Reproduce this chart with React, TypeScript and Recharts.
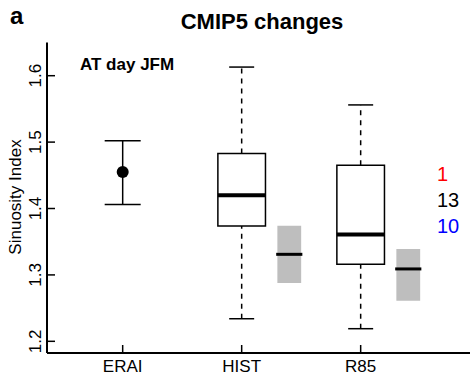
import React from 'react';
import {
  ComposedChart, XAxis, YAxis, Scatter, ErrorBar, ReferenceArea, ReferenceLine,
} from 'recharts';

const categories = ['ERAI', 'HIST', 'R85'];
const positions = [1, 2, 3];
const yTicks = [1.2, 1.3, 1.4, 1.5, 1.6];

// reanalysis: mean with range
const eraiMean = 1.455;
const eraiLow = 1.406;
const eraiHigh = 1.502;

// CMIP5 model boxes (HIST, R85)
const boxMin = [1.234, 1.219];
const boxQ1 = [1.3735, 1.316];
const boxMedian = [1.42, 1.361];
const boxQ3 = [1.483, 1.465];
const boxMax = [1.613, 1.556];

// grey bands next to each box
const bandLow = [1.288, 1.261];
const bandMedian = [1.331, 1.309];
const bandHigh = [1.374, 1.339];

const counts = ['1', '13', '10'];
const countColors = ['#ff0000', '#000000', '#0000ff'];

const FONT = '"Liberation Sans", Arial, Helvetica, sans-serif';
const W = 470;
const H = 375;
const PLOT_LEFT = 47;
const PLOT_BOTTOM = 353;

const eraiData = [{ x: positions[0], y: eraiMean, err: [eraiMean - eraiLow, eraiHigh - eraiMean] }];

const YTick = (props: any) => {
  const { y, payload } = props;
  return (
    <g>
      <line x1={PLOT_LEFT} x2={PLOT_LEFT + 8} y1={y} y2={y} stroke="#000" strokeWidth={1.5} />
      <text
        x={36} y={y} transform={`rotate(-90 36 ${y})`} textAnchor="middle" dominantBaseline="central"
        fontFamily={FONT} fontSize={17} fill="#000"
      >
        {payload.value.toFixed(1)}
      </text>
    </g>
  );
};

const XTick = (props: any) => {
  const { x, payload } = props;
  const idx = positions.indexOf(payload.value);
  return (
    <g>
      <line x1={x} x2={x} y1={PLOT_BOTTOM} y2={PLOT_BOTTOM - 8} stroke="#000" strokeWidth={1.5} />
      <text x={x} y={372} textAnchor="middle" fontFamily={FONT} fontSize={17} fill="#000">
        {categories[idx]}
      </text>
    </g>
  );
};

const Dot = (props: any) => <circle cx={props.cx} cy={props.cy} r={6} fill="#000" />;

export default function App() {
  const boxW = 0.2;
  const capW = 0.105;
  const bandOff = 0.4;
  const bandW = 0.1;

  return (
    <div style={{ position: 'absolute', left: 0, top: 0, width: W, height: H, overflow: 'hidden', background: '#fff' }}>
      <ComposedChart width={520} height={H} margin={{ top: 42.5, right: 0, bottom: 0, left: 0 }}>
        <XAxis
          dataKey="x" type="number" domain={[0.364, 4.339]} ticks={positions} allowDataOverflow
          height={H - PLOT_BOTTOM} axisLine={{ stroke: '#000', strokeWidth: 2 }} tickLine={false}
          tick={<XTick />} interval={0}
        />
        <XAxis xAxisId="top" orientation="top" height={0} tick={false} tickLine={false}
          axisLine={{ stroke: '#000', strokeWidth: 2 }} />
        <YAxis
          type="number" domain={[1.1824, 1.65]} ticks={yTicks} allowDataOverflow width={PLOT_LEFT}
          axisLine={{ stroke: '#000', strokeWidth: 2 }} tickLine={false} tick={<YTick />} interval={0}
        />

        {positions.slice(1).map((p, i) => (
          <React.Fragment key={categories[i + 1]}>
            <ReferenceLine segment={[{ x: p, y: boxQ3[i] }, { x: p, y: boxMax[i] }]} stroke="#000" strokeWidth={1.5} strokeDasharray="5 5" />
            <ReferenceLine segment={[{ x: p, y: boxMin[i] }, { x: p, y: boxQ1[i] }]} stroke="#000" strokeWidth={1.5} strokeDasharray="5 5" />
            <ReferenceLine segment={[{ x: p - capW, y: boxMax[i] }, { x: p + capW, y: boxMax[i] }]} stroke="#000" strokeWidth={1.5} />
            <ReferenceLine segment={[{ x: p - capW, y: boxMin[i] }, { x: p + capW, y: boxMin[i] }]} stroke="#000" strokeWidth={1.5} />
            <ReferenceArea x1={p - boxW} x2={p + boxW} y1={boxQ1[i]} y2={boxQ3[i]} fill="#fff" fillOpacity={1} stroke="#000" strokeWidth={1.5} />
            <ReferenceLine segment={[{ x: p - boxW, y: boxMedian[i] }, { x: p + boxW, y: boxMedian[i] }]} stroke="#000" strokeWidth={4} />
            <ReferenceArea x1={p + bandOff - bandW} x2={p + bandOff + bandW} y1={bandLow[i]} y2={bandHigh[i]} fill="#bebebe" fillOpacity={1} stroke="none" />
            <ReferenceLine segment={[{ x: p + bandOff - bandW - 0.01, y: bandMedian[i] }, { x: p + bandOff + bandW + 0.01, y: bandMedian[i] }]} stroke="#000" strokeWidth={3} />
          </React.Fragment>
        ))}

        <Scatter data={eraiData} dataKey="y" shape={<Dot />} isAnimationActive={false}>
          <ErrorBar dataKey="err" direction="y" width={18} stroke="#000" strokeWidth={1.5} />
        </Scatter>
      </ComposedChart>

      <svg width={W} height={H} style={{ position: 'absolute', left: 0, top: 0, pointerEvents: 'none' }}>
        <text x={10} y={24} fontFamily={FONT} fontSize={24} fontWeight="bold" fill="#000">a</text>
        <text x={262} y={29} textAnchor="middle" fontFamily={FONT} fontSize={22} fontWeight="bold" fill="#000">CMIP5 changes</text>
        <text x={80} y={70} fontFamily={FONT} fontSize={17} fontWeight="bold" fill="#000">AT day JFM</text>
        <text x={15} y={197} transform="rotate(-90 15 197)" textAnchor="middle" dominantBaseline="central"
          fontFamily={FONT} fontSize={17} fill="#000">Sinuosity Index</text>
        {counts.map((c, i) => (
          <text key={i} x={437} y={181 + i * 26} fontFamily={FONT} fontSize={20} fill={countColors[i]}>{c}</text>
        ))}
      </svg>
    </div>
  );
}
